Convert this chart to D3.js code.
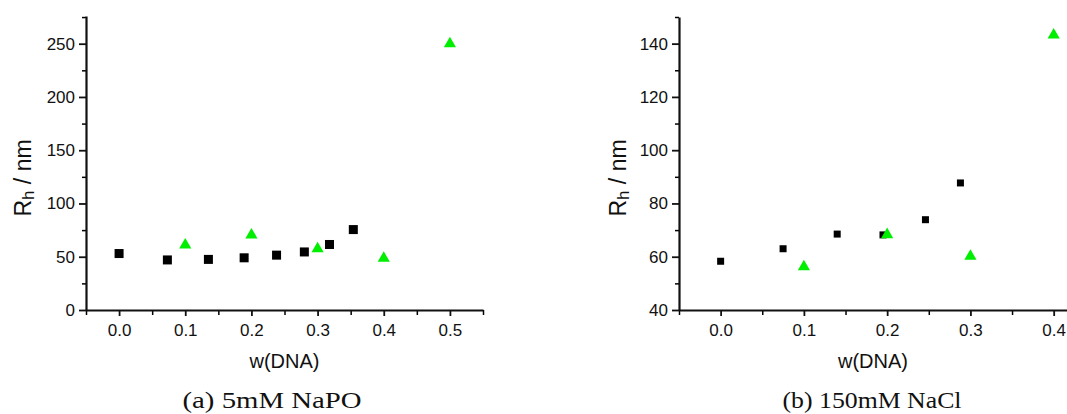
<!DOCTYPE html>
<html>
<head>
<meta charset="utf-8">
<script src="https://cdn.jsdelivr.net/npm/d3@7"></script>
<style>
  body { margin: 0; background: #fff; }
  svg { display: block; }
  .tick text { font-family: Arial, "Liberation Sans", sans-serif; font-size: 17px; fill: #111; }
  .lbl { font-family: Arial, "Liberation Sans", sans-serif; font-size: 20px; fill: #111; }
  .ylbl { font-family: Arial, "Liberation Sans", sans-serif; font-size: 23px; fill: #111; }
  .cap { font-family: "Liberation Serif", "DejaVu Serif", serif; font-size: 23px; fill: #111; }
</style>
</head>
<body>
<div id="chart"></div>
<script>
// (a) 5mM NaPO
var naPoSquareX = [0, 0.073, 0.135, 0.189, 0.238, 0.280, 0.318, 0.354];
var naPoSquareY = [53, 47, 47.5, 49, 51.5, 54.5, 61.5, 75.5];
var naPoTriX = [0.1, 0.2, 0.3, 0.4, 0.5];
var naPoTriY = [61, 70.5, 57.5, 48.5, 250];
var naPoXTicks = [0, 0.1, 0.2, 0.3, 0.4, 0.5];
var naPoYTicks = [0, 50, 100, 150, 200, 250];

// (b) 150mM NaCl
var naClSquareX = [0, 0.075, 0.140, 0.195, 0.246, 0.288];
var naClSquareY = [58.3, 63, 68.5, 68.2, 73.9, 87.7];
var naClTriX = [0.1, 0.2, 0.3, 0.4];
var naClTriY = [56.2, 68.3, 60.2, 143.2];
var naClXTicks = [0, 0.1, 0.2, 0.3, 0.4];
var naClYTicks = [40, 60, 80, 100, 120, 140];

var W = 1067, H = 414;
var svg = d3.select('#chart').append('svg').attr('width', W).attr('height', H);

function panel(o) {
  var x = d3.scaleLinear().domain(o.xDomain).range([o.left, o.right]);
  var y = d3.scaleLinear().domain(o.yDomain).range([o.bottom, o.top]);
  var g = svg.append('g');

  // minor ticks
  g.append('g').attr('transform', 'translate(0,' + o.bottom + ')')
    .call(d3.axisBottom(x).tickValues(o.xMinor).tickSize(5).tickFormat(''))
    .call(function(a) { a.select('.domain').remove(); a.selectAll('line').attr('stroke-width', 1.5); });
  g.append('g').attr('transform', 'translate(' + o.left + ',0)')
    .call(d3.axisLeft(y).tickValues(o.yMinor).tickSize(4).tickFormat(''))
    .call(function(a) { a.select('.domain').remove(); a.selectAll('line').attr('stroke-width', 1.5); });

  // major axes
  var xa = g.append('g').attr('transform', 'translate(0,' + o.bottom + ')')
    .call(d3.axisBottom(x).tickValues(o.xTicks).tickSize(6).tickSizeOuter(0).tickPadding(8).tickFormat(d3.format('.1f')));
  var ya = g.append('g').attr('transform', 'translate(' + o.left + ',0)')
    .call(d3.axisLeft(y).tickValues(o.yTicks).tickSize(7).tickSizeOuter(0).tickPadding(4));
  [xa, ya].forEach(function(a) {
    a.select('.domain').attr('stroke-width', 2.2).attr('stroke', '#111');
    a.selectAll('.tick line').attr('stroke-width', 1.8).attr('stroke', '#111');
  });

  // squares
  g.selectAll('rect.sq').data(o.sqX).enter().append('rect')
    .attr('x', function(d) { return x(d) - o.sq / 2; })
    .attr('y', function(d, i) { return y(o.sqY[i]) - o.sq / 2; })
    .attr('width', o.sq).attr('height', o.sq).attr('fill', '#000');

  // triangles
  var tri = d3.symbol().type(d3.symbolTriangle).size(o.tri);
  g.selectAll('path.tr').data(o.trX).enter().append('path')
    .attr('d', tri)
    .attr('transform', function(d, i) { return 'translate(' + x(d) + ',' + y(o.trY[i]) + ')'; })
    .attr('fill', '#00ee00');

  // labels
  var yl = g.append('text').attr('class', 'ylbl')
    .attr('transform', 'translate(' + o.yLabelX + ',178) rotate(-90)')
    .attr('text-anchor', 'middle');
  yl.append('tspan').text('R');
  yl.append('tspan').attr('font-size', 17).attr('dy', 3).text('h');
  yl.append('tspan').attr('dy', -3).text(' / nm');

  g.append('text').attr('class', 'lbl').attr('x', (o.left + o.right) / 2).attr('y', 368)
    .attr('text-anchor', 'middle').text('w(DNA)');
  g.append('text').attr('class', 'cap').attr('x', o.capX).attr('y', 408)
    .attr('text-anchor', 'middle')
    .attr('textLength', 179).attr('lengthAdjust', 'spacingAndGlyphs')
    .text(o.caption);
}

panel({
  left: 86, right: 483, top: 16, bottom: 310,
  xDomain: [-0.05, 0.55], yDomain: [0, 276],
  xTicks: naPoXTicks, yTicks: naPoYTicks,
  xMinor: [-0.05, 0.05, 0.15, 0.25, 0.35, 0.45, 0.55],
  yMinor: [25, 75, 125, 175, 225, 275],
  sqX: naPoSquareX, sqY: naPoSquareY, trX: naPoTriX, trY: naPoTriY,
  sq: 9, tri: 64,
  yLabelX: 31, capX: 272, caption: '(a) 5mM NaPO'
});

panel({
  left: 679, right: 1067, top: 17, bottom: 310,
  xDomain: [-0.05, 0.416], yDomain: [40, 150],
  xTicks: naClXTicks, yTicks: naClYTicks,
  xMinor: [-0.05, 0.05, 0.15, 0.25, 0.35],
  yMinor: [50, 70, 90, 110, 130, 150],
  sqX: naClSquareX, sqY: naClSquareY, trX: naClTriX, trY: naClTriY,
  sq: 7, tri: 64,
  yLabelX: 626, capX: 872, caption: '(b) 150mM NaCl'
});
</script>
</body>
</html>
